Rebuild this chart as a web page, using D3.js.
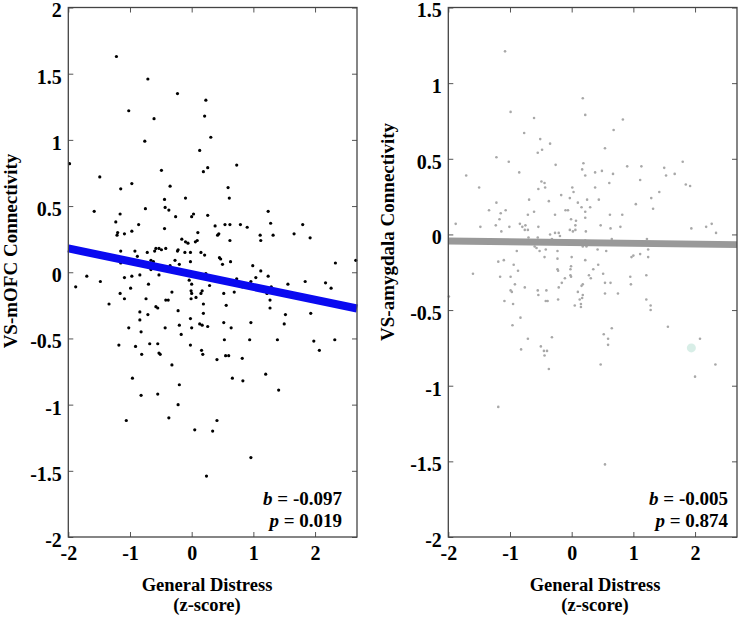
<!DOCTYPE html>
<html>
<head>
<meta charset="utf-8">
<script src="https://cdn.jsdelivr.net/npm/d3@7/dist/d3.min.js"></script>
<style>
  html, body { margin: 0; padding: 0; background: #fff; }
  svg { display: block; }
  text { font-family: "Liberation Serif", "Times New Roman", serif; font-weight: bold; }
</style>
</head>
<body>
<svg id="chart" width="741" height="620"></svg>
<script>
// ---------- DATA ----------
const xTicks = [-2, -1, 0, 1, 2];
const leftYTicks = [-2, -1.5, -1, -0.5, 0, 0.5, 1, 1.5, 2];
const rightYTicks = [-2, -1.5, -1, -0.5, 0, 0.5, 1, 1.5];

const leftX = [-1.22,-0.71,-0.23,0.23,-1.02,-0.61,0.21,0.31,-0.76,0.13,0.73,0.26,0.19,-0.49,-1.49,-0.97,-0.35,-1.15,0.59,-0.10,
-0.44,0.61,-1.98,-1.58,-1.16,-0.75,-0.43,-0.37,-0.26,0.03,0.00,0.26,-1.23,-0.86,-0.97,-1.09,-1.20,-1.21,-0.44,0.10,
0.38,0.54,0.62,0.79,0.90,1.24,1.28,1.32,1.11,1.12,1.80,1.92,1.66,0.44,0.42,-0.16,-0.10,-0.06,0.06,0.09,
-1.15,-0.92,-0.88,-0.72,-0.60,-0.58,-0.53,-0.49,-0.42,-0.22,-0.23,-0.11,-0.02,0.15,0.21,0.45,0.47,0.50,0.63,0.62,
0.99,1.12,1.24,1.04,2.33,2.66,-1.15,-0.66,-0.62,-0.35,-0.27,-0.20,-0.02,-0.84,-0.97,-1.09,-0.66,-0.53,-1.70,-1.48,
-1.88,-0.04,0.23,0.00,0.29,0.82,0.96,1.56,1.84,2.17,2.26,0.73,-1.16,-0.99,-0.70,-1.34,-1.09,-0.74,-0.58,-0.55,
-0.42,-0.38,-0.32,-0.01,0.17,0.15,0.00,-0.01,0.07,0.19,0.56,0.52,0.69,1.22,1.29,1.27,1.27,1.52,1.50,1.93,
-0.22,-0.84,-0.71,-0.84,-0.02,0.13,0.17,0.26,0.52,0.64,0.96,-0.20,-0.43,-1.02,-0.82,-0.17,0.00,1.39,0.53,0.94,
1.98,2.32,-1.18,-0.68,-0.55,-0.02,-0.91,2.07,-0.81,-0.53,-0.51,0.16,0.18,0.41,0.55,0.60,0.82,-0.32,-0.96,0.66,
0.83,1.20,-0.20,1.41,-0.82,-0.55,-0.22,-0.37,0.41,-1.06,0.05,0.34,0.96,0.24,0.19];
const leftY = [1.63,1.46,1.35,1.30,1.22,1.16,1.18,1.02,0.99,0.92,0.81,0.79,0.76,0.77,0.72,0.67,0.65,0.63,0.64,0.56,
0.55,0.56,0.82,0.46,0.44,0.48,0.49,0.47,0.42,0.44,0.42,0.43,0.38,0.36,0.31,0.29,0.30,0.28,0.33,0.30,
0.35,0.36,0.36,0.36,0.34,0.46,0.37,0.28,0.28,0.24,0.36,0.26,0.29,0.29,0.28,0.25,0.23,0.22,0.23,0.24,
0.16,0.16,0.12,0.15,0.16,0.18,0.18,0.17,0.18,0.17,0.16,0.15,0.15,0.15,0.13,0.11,0.10,0.06,0.08,0.24,
0.05,0.01,-0.03,-0.04,0.07,0.09,0.07,0.09,0.08,0.05,0.09,0.06,0.08,-0.02,-0.03,-0.04,0.02,-0.02,-0.03,-0.07,
-0.11,-0.06,-0.01,-0.09,-0.10,-0.11,-0.07,-0.09,-0.07,-0.08,-0.12,-0.05,-0.16,-0.12,-0.09,-0.24,-0.20,-0.20,-0.26,-0.27,
-0.21,-0.21,-0.15,-0.14,-0.14,-0.16,-0.16,-0.20,-0.19,-0.24,-0.25,-0.16,-0.15,-0.16,-0.11,-0.21,-0.27,-0.32,-0.39,-0.31,
-0.29,-0.30,-0.32,-0.36,-0.35,-0.39,-0.40,-0.41,-0.38,-0.42,-0.38,-0.40,-0.42,-0.42,-0.45,-0.47,-0.42,-0.51,-0.51,-0.51,
-0.52,-0.51,-0.55,-0.54,-0.54,-0.55,-0.56,-0.59,-0.62,-0.61,-0.62,-0.59,-0.62,-0.66,-0.63,-0.63,-0.65,-0.70,-0.80,-0.80,
-0.82,-0.77,-0.85,-0.89,-0.93,-0.92,-1.00,-1.10,-1.12,-1.12,-1.19,-1.20,-1.40,-1.54,-0.31];

const rightX = [-1.08,-0.99,0.18,0.22,-0.61,0.83,0.68,-0.77,-0.51,-0.35,-0.48,-0.55,0.54,-1.22,-1.02,-0.26,0.19,0.17,0.22,0.38,
0.49,0.67,0.90,1.13,1.50,1.80,1.53,1.67,-0.85,-1.71,-1.50,-0.49,-0.44,-0.54,-0.43,0.01,0.03,-0.17,0.38,0.61,
1.11,1.85,1.92,-0.03,-0.69,-0.37,0.44,0.25,1.29,1.42,-1.22,0.10,0.16,0.30,0.22,-1.34,-1.07,-1.15,-1.17,-0.71,
-0.61,-0.27,-0.10,-0.06,-0.01,0.07,0.06,0.22,-1.88,-1.48,-1.23,-1.14,-1.01,-0.84,-0.80,-0.75,-0.76,-0.71,-0.54,-0.35,
-0.27,-0.21,-0.19,-0.03,0.02,0.06,0.23,-0.70,-0.55,-0.32,0.18,0.22,0.24,-0.60,-0.57,-0.52,-0.42,-0.44,-0.23,-0.23,
-0.89,0.00,0.22,0.35,-1.19,-1.10,-0.94,-0.87,-1.60,-1.16,-0.99,-0.76,-0.92,-0.23,-0.22,-0.01,-0.02,-0.02,-0.01,-0.11,
-0.16,-0.21,0.28,0.31,0.18,0.16,-0.99,-0.97,-0.41,-0.54,0.10,0.18,0.17,0.13,0.05,0.15,0.15,-1.09,-0.95,-0.42,
-0.39,-0.22,-1.99,-0.83,-0.96,-0.71,-0.32,-0.82,-0.50,-0.45,-0.40,-0.44,-0.37,0.47,2.33,2.00,-1.19,0.54,1.04,1.32,
0.82,0.62,0.47,0.63,0.79,1.94,2.18,2.27,2.34,0.65,1.22,0.42,0.56,1.24,1.24,1.11,1.00,0.97,0.43,0.51,
1.21,0.95,0.54,0.63,0.96,0.54,0.75,1.21,1.28,1.28,0.65,1.56,0.52,0.59,0.59,2.08,-0.55];
const rightY = [1.21,0.81,0.90,0.79,0.77,0.76,0.69,0.67,0.63,0.60,0.56,0.54,0.57,0.51,0.48,0.46,0.47,0.43,0.39,0.41,
0.42,0.40,0.45,0.45,0.44,0.48,0.39,0.40,0.41,0.39,0.31,0.35,0.34,0.30,0.31,0.31,0.28,0.26,0.31,0.34,
0.36,0.33,0.32,0.24,0.23,0.22,0.23,0.23,0.24,0.28,0.21,0.21,0.18,0.18,0.15,0.16,0.16,0.14,0.10,0.13,
0.15,0.13,0.16,0.16,0.10,0.09,0.06,0.11,0.07,0.05,0.06,0.02,0.05,0.07,0.05,0.06,0.03,0.03,0.05,0.00,
0.01,0.01,-0.01,0.03,0.02,0.03,0.02,-0.02,-0.02,-0.03,-0.08,-0.04,-0.08,-0.08,-0.09,-0.11,-0.10,-0.15,-0.11,-0.16,
-0.11,-0.15,-0.17,-0.23,-0.18,-0.17,-0.20,-0.24,-0.26,-0.28,-0.28,-0.35,-0.33,-0.23,-0.24,-0.21,-0.23,-0.27,-0.28,-0.29,
-0.32,-0.35,-0.27,-0.29,-0.33,-0.34,-0.37,-0.38,-0.37,-0.40,-0.38,-0.40,-0.42,-0.43,-0.47,-0.46,-0.48,-0.44,-0.46,-0.44,
-0.44,-0.43,-0.41,-0.55,-0.60,-0.69,-0.68,-0.76,-0.74,-0.77,-0.77,-0.80,-0.89,-0.86,-0.86,-0.94,-1.14,-1.52,0.20,0.17,
0.13,0.13,0.06,0.04,0.05,0.04,0.05,0.07,0.01,-0.03,-0.03,-0.10,-0.11,-0.10,-0.15,-0.13,-0.14,-0.15,-0.20,-0.26,
-0.27,-0.28,-0.32,-0.32,-0.33,-0.39,-0.39,-0.43,-0.47,-0.50,-0.62,-0.61,-0.66,-0.69,-0.73,-0.69,-0.37];

const rightHighlightX = [1.94];
const rightHighlightY = [-0.75];

const leftFit = { intercept: -0.014, slope: -0.097 };
const rightFit = { intercept: -0.054, slope: -0.005 };

const leftStats = ["-0.097", "0.019"];
const rightStats = ["-0.005", "0.874"];

const xLabel1 = "General Distress";
const xLabel2 = "(z-score)";
const leftYLabel = "VS-mOFC Connectivity";
const rightYLabel = "VS-amygdala Connectivity";

// ---------- DRAW ----------
const svg = d3.select("#chart");
const xDomain = [-2, 2.68];
const plotTop = 7.5, plotBottom = 537;

function fmt(v) { return String(v); }

function drawPanel(cfg) {
  const x = d3.scaleLinear().domain(xDomain).range([cfg.x0, cfg.x1]);
  const y = d3.scaleLinear().domain(cfg.yDomain).range([plotBottom, plotTop]);
  const g = svg.append("g");

  const pts = cfg.px.map((v, i) => [v, cfg.py[i]]);
  const lineFn = d3.line().x(d => x(d[0])).y(d => y(d[1]));
  const fitPts = xDomain.map(v => [v, cfg.fit.intercept + cfg.fit.slope * v]);

  if (cfg.hx) {
    g.selectAll(".hl").data(cfg.hx.map((v, i) => [v, cfg.hy[i]])).join("circle")
      .attr("cx", d => x(d[0])).attr("cy", d => y(d[1])).attr("r", 4.5)
      .attr("fill", "#d4ece4").attr("opacity", 0.9);
  }
  g.selectAll(".pt").data(pts).join("circle")
    .attr("cx", d => x(d[0])).attr("cy", d => y(d[1]))
    .attr("r", cfg.r).attr("fill", cfg.dot);

  g.append("path").datum(fitPts).attr("d", lineFn)
    .attr("stroke", cfg.lineColor).attr("stroke-width", cfg.lineWidth).attr("fill", "none");

  const tickColor = "#555";
  const axB = g.append("g").attr("transform", `translate(0,${plotBottom})`)
    .call(d3.axisBottom(x).tickValues(xTicks).tickSizeInner(-5).tickSizeOuter(0).tickPadding(9).tickFormat(fmt));
  const axT = g.append("g").attr("transform", `translate(0,${plotTop})`)
    .call(d3.axisTop(x).tickValues(xTicks).tickSizeInner(-5).tickSizeOuter(0).tickFormat(""));
  const axL = g.append("g").attr("transform", `translate(${cfg.x0},0)`)
    .call(d3.axisLeft(y).tickValues(cfg.yTicks).tickSizeInner(-5).tickSizeOuter(0).tickPadding(6.5).tickFormat(fmt));
  const axR = g.append("g").attr("transform", `translate(${cfg.x1},0)`)
    .call(d3.axisRight(y).tickValues(cfg.yTicks).tickSizeInner(-5).tickSizeOuter(0).tickFormat(""));
  [axB, axT, axL, axR].forEach(a => {
    a.select(".domain").remove();
    a.selectAll(".tick line").attr("stroke", tickColor).attr("stroke-width", 1);
    a.selectAll("text").attr("font-family", '"Liberation Serif", serif')
      .attr("font-weight", "bold").attr("font-size", 20).attr("fill", "#000");
  });
  axL.selectAll("text").attr("dy", "0.47em");

  g.append("rect").attr("x", cfg.x0).attr("y", plotTop)
    .attr("width", cfg.x1 - cfg.x0).attr("height", plotBottom - plotTop)
    .attr("fill", "none").attr("stroke", "#444").attr("stroke-width", 1.3);

  g.append("text")
    .attr("transform", `translate(${cfg.yLabelX},${cfg.yLabelY}) rotate(-90)`)
    .attr("text-anchor", "middle").attr("font-size", 19).text(cfg.yLabel);

  g.append("text").attr("x", cfg.xLabelX).attr("y", 591).attr("text-anchor", "middle")
    .attr("font-size", 18.5).text(xLabel1);
  g.append("text").attr("x", cfg.xLabelX).attr("y", 611).attr("text-anchor", "middle")
    .attr("font-size", 18.5).text(xLabel2);

  const t1 = g.append("text").attr("x", cfg.statX).attr("y", 505).attr("text-anchor", "end").attr("font-size", 19);
  t1.append("tspan").attr("font-style", "italic").text("b");
  t1.append("tspan").text(" = " + cfg.stats[0]);
  const t2 = g.append("text").attr("x", cfg.statX).attr("y", 527).attr("text-anchor", "end").attr("font-size", 19);
  t2.append("tspan").attr("font-style", "italic").text("p");
  t2.append("tspan").text(" = " + cfg.stats[1]);
}

drawPanel({
  x0: 68.3, x1: 357, yDomain: [-2, 2], yTicks: leftYTicks,
  px: leftX, py: leftY, r: 1.6, dot: "#000",
  fit: leftFit, lineColor: "#0a0af0", lineWidth: 8,
  yLabel: leftYLabel, yLabelX: 17, yLabelY: 251,
  xLabelX: 207, statX: 342, stats: leftStats
});
drawPanel({
  x0: 448.3, x1: 737, yDomain: [-2, 1.5], yTicks: rightYTicks,
  px: rightX, py: rightY, r: 1.3, dot: "#a8a8a8",
  hx: rightHighlightX, hy: rightHighlightY,
  fit: rightFit, lineColor: "#999", lineWidth: 7,
  yLabel: rightYLabel, yLabelX: 394, yLabelY: 232,
  xLabelX: 595, statX: 728, stats: rightStats
});
</script>
</body>
</html>
